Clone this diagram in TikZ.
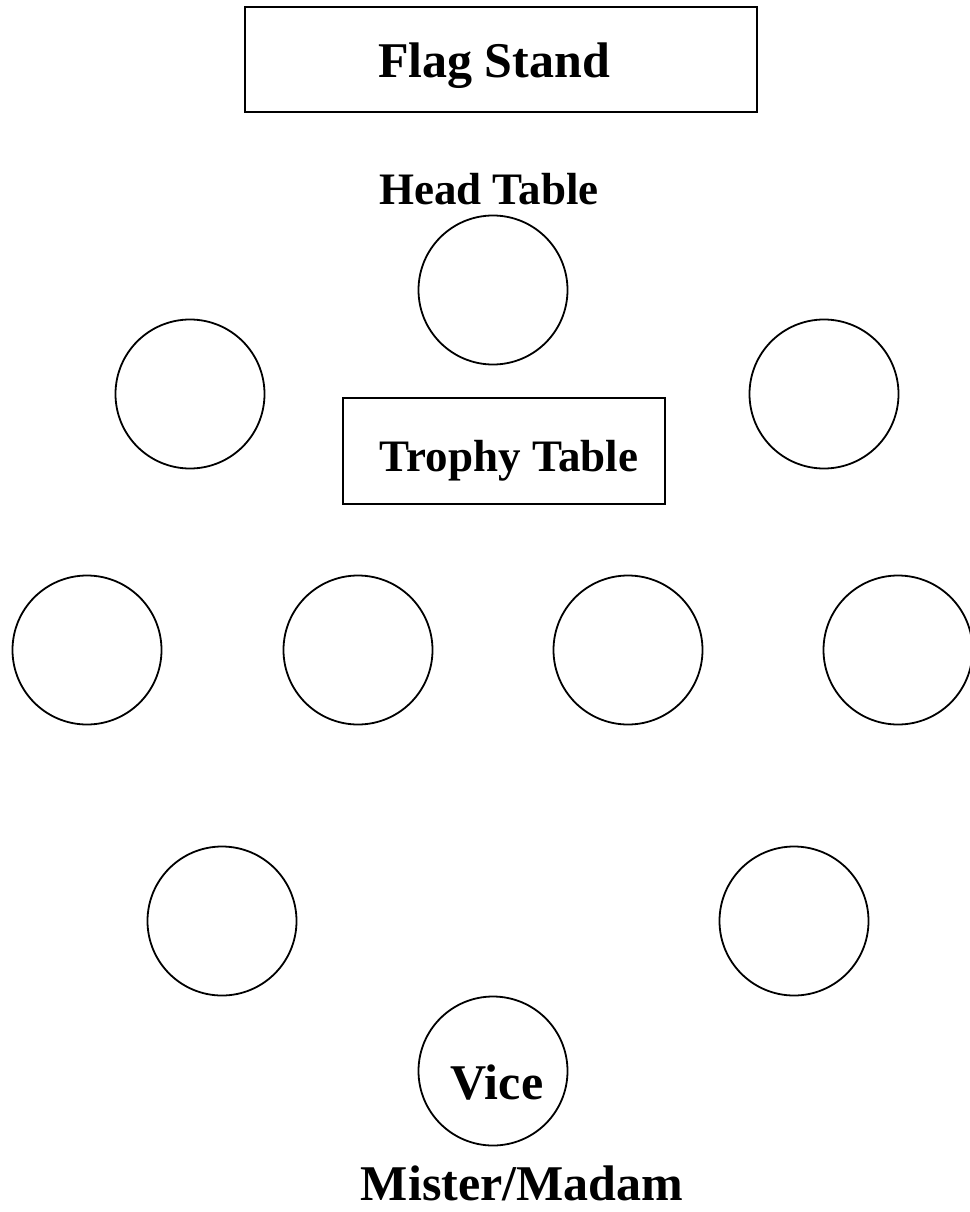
\documentclass[tikz,border=0pt]{standalone}
\usepackage{fontspec}
\setmainfont{Liberation Serif}
\begin{document}
\begin{tikzpicture}[x=1pt,y=-1pt,
  tbl/.style={draw, line width=1.8pt, circle, minimum size=149pt, inner sep=0pt},
  boxst/.style={draw, line width=1.8pt, inner sep=0pt},
  big/.style={font=\fontsize{50}{56}\selectfont\bfseries, inner sep=0pt},
  mid/.style={font=\fontsize{45}{50}\selectfont\bfseries, inner sep=0pt}]
\useasboundingbox (0,0) rectangle (969,1212);
\fill[white] (0,0) rectangle (969,1212);
\node[boxst, minimum width=512pt, minimum height=105pt] (flag) at (501,59.5) {};
\node[big] (flagt) at (494,66) {Flag Stand};
\node[mid] (head) at (489,189) {Head Table};
\node[tbl] (t1) at (493,290) {};
\node[tbl] (t2) at (190,394) {};
\node[tbl] (t3) at (824,394) {};
\node[boxst, minimum width=322pt, minimum height=106pt] (trophy) at (504,451) {};
\node[mid] (trophyt) at (509,461) {Trophy Table};
\node[tbl] (t4) at (87,650) {};
\node[tbl] (t5) at (358,650) {};
\node[tbl] (t6) at (628,650) {};
\node[tbl] (t7) at (898,650) {};
\node[tbl] (t8) at (222,921) {};
\node[tbl] (t9) at (794,921) {};
\node[tbl] (t10) at (493,1071) {};
\node[big] (vice) at (497,1083) {Vice};
\node[big] (mister) at (522,1183) {Mister/Madam};
\end{tikzpicture}
\end{document}
